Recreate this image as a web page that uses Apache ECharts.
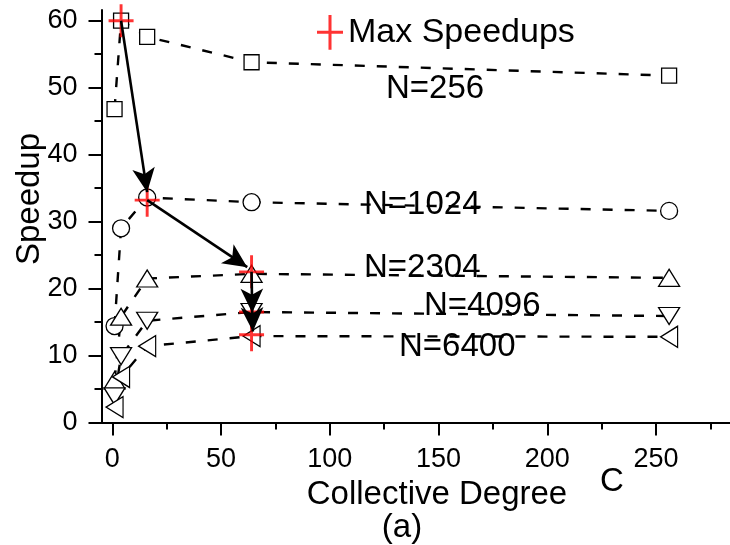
<!DOCTYPE html>
<html>
<head>
<meta charset="utf-8">
<style>
  html, body { margin: 0; padding: 0; background: #fff; }
  #chart { width: 730px; height: 545px; }
</style>
<script src="https://cdn.jsdelivr.net/npm/echarts@6.0.0/dist/echarts.min.js"></script>
</head>
<body>
<div id="chart"></div>
<script>
// collective degree C
const degrees = [1, 4, 16, 64, 256];

// speedup per problem size
const speedN256 = [46.8, 60, 57.6, 53.8, 51.8];
const speedN1024 = [14.4, 29, 33.6, 32.9, 31.6];
const speedN2304 = [6.3, 15.8, 21.5, 22.2, 21.6];
const speedN4096 = [3.9, 9.9, 15.2, 16.5, 15.9];
const speedN6400 = [2.3, 6.8, 11.4, 12.9, 12.8];

// max speedups (red crosses) and the arrows linking them
const maxDegrees = [4, 16, 64, 64, 64];
const maxSpeedups = [60, 33.2, 22.5, 16.5, 13.1];
const arrowFrom = [[4, 60], [16, 33.2], [64, 22.5], [64.3, 16.5]];
const arrowTo = [[16, 34.4], [62, 23.2], [64.3, 16.4], [64.6, 13.6]];

// ticks
const xMajor = [0, 50, 100, 150, 200, 250];
const xMinor = [25, 75, 125, 175, 225, 275];
const yMajor = [0, 10, 20, 30, 40, 50, 60];
const yMinor = [5, 15, 25, 35, 45, 55];

const FONT = "'Liberation Sans', Arial, sans-serif";
const CROSS = "path://M0,14.6h24v2.8h-24zM10.6,0h2.8v32h-2.8z";
const TRI_DOWN = "path://M0,0L20,0L10,17Z";
const TRI_LEFT = "path://M0,10L17,0L17,20Z";

const chart = echarts.init(document.getElementById("chart"));

function pair(ys) {
  return degrees.map((x, i) => [x, ys[i]]);
}

function dashed(name, ys, symbol, size) {
  return {
    name: name,
    type: "line",
    data: pair(ys),
    symbol: symbol,
    symbolSize: size,
    showAllSymbol: true,
    z: 2,
    lineStyle: { color: "#000", width: 2.4, type: [10, 12] },
    itemStyle: { color: "#fff", borderColor: "#000", borderWidth: 1.3 },
    emphasis: { disabled: true },
  };
}

function axisPair(pos, major, minor, min, max) {
  const common = {
    type: "value",
    position: pos,
    min: min,
    max: max,
    splitLine: { show: false },
  };
  return [
    Object.assign({}, common, {
      axisLine: { show: true, onZero: false, lineStyle: { color: "#000", width: 2 } },
      axisTick: { show: true, customValues: major, length: 13, lineStyle: { color: "#000", width: 2 } },
      axisLabel: {
        customValues: major,
        color: "#000",
        fontSize: 27,
        fontFamily: FONT,
        margin: 24,
      },
    }),
    Object.assign({}, common, {
      axisLine: { show: false, onZero: false },
      axisTick: { show: true, customValues: minor, length: 7, lineStyle: { color: "#000", width: 2 } },
      axisLabel: { show: false },
    }),
  ];
}

function text(str, x, y, align, rotation) {
  return {
    type: "text",
    x: x,
    y: y,
    rotation: rotation || 0,
    style: {
      text: str,
      fill: "#000",
      font: "33px " + FONT,
      textAlign: align,
      textVerticalAlign: "middle",
    },
  };
}

const option = {
  animation: false,
  grid: { left: 101.5, top: 10, right: 0, bottom: 122.5 },
  xAxis: axisPair("bottom", xMajor, xMinor, -5, 284),
  yAxis: axisPair("left", yMajor, yMinor, 0, 61.6),
  legend: {
    data: ["Max Speedups"],
    left: 312,
    top: 10,
    icon: CROSS,
    itemWidth: 26,
    itemHeight: 37,
    textStyle: { fontSize: 34, fontFamily: FONT, color: "#000" },
    selectedMode: false,
  },
  series: [
    dashed("N=256", speedN256, "rect", 15),
    dashed("N=1024", speedN1024, "circle", 17),
    dashed("N=2304", speedN2304, "triangle", [21, 17]),
    dashed("N=4096", speedN4096, TRI_DOWN, [21, 17]),
    dashed("N=6400", speedN6400, TRI_LEFT, [17, 21]),
    {
      name: "arrows",
      type: "line",
      data: [],
      z: 3,
      markLine: {
        silent: true,
        symbol: ["none", "arrow"],
        symbolSize: [17, 24],
        label: { show: false },
        lineStyle: { color: "#000", width: 2.6, type: "solid" },
        emphasis: { disabled: true },
        data: arrowFrom.map((p, i) => [{ coord: p }, { coord: arrowTo[i] }]),
      },
    },
    {
      name: "Max Speedups",
      type: "scatter",
      data: maxDegrees.map((x, i) => [x, maxSpeedups[i]]),
      symbol: CROSS,
      symbolSize: [25, 33],
      z: 4,
      itemStyle: { color: "#ff0000" },
      emphasis: { disabled: true },
    },
  ],
  graphic: [
    text("Speedup", 30, 199, "center", Math.PI / 2),
    text("Collective Degree", 437, 495, "center"),
    text("(a)", 402, 528, "center"),
    text("C", 612, 482, "center"),
    text("N=256", 386, 89, "left"),
    text("N=1024", 364, 205, "left"),
    text("N=2304", 364, 268, "left"),
    text("N=4096", 424, 306, "left"),
    text("N=6400", 399, 347, "left"),
  ],
};

chart.setOption(option);
</script>
</body>
</html>
